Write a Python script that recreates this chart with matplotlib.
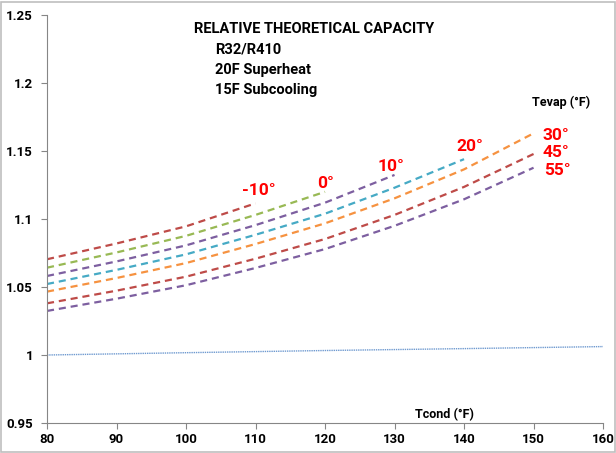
import matplotlib.pyplot as plt
from matplotlib.patches import Rectangle

plt.rcParams['font.family'] = ['Roboto', 'DejaVu Sans']

# condensing temperature (F)
tcond = [80, 90, 100, 110, 120, 130, 140, 150]

# relative capacity R32/R410 for each evaporating temperature
cap_m10 = [1.0704, 1.0820, 1.0946, 1.1115]
cap_0 = [1.0642, 1.0754, 1.0876, 1.1030, 1.1200]
cap_10 = [1.0581, 1.0688, 1.0806, 1.0955, 1.1120, 1.1324]
cap_20 = [1.0522, 1.0626, 1.0740, 1.0884, 1.1039, 1.1230, 1.1440]
cap_30 = [1.0466, 1.0566, 1.0676, 1.0816, 1.0968, 1.1152, 1.1365, 1.1630]
cap_45 = [1.0380, 1.0473, 1.0576, 1.0708, 1.0853, 1.1030, 1.1236, 1.1478]
cap_55 = [1.0324, 1.0414, 1.0513, 1.0640, 1.0779, 1.0950, 1.1145, 1.1377]

# reference line (ratio = 1)
base_t = [80, 100, 120, 140, 160]
base_cap = [1.0000, 1.0017, 1.0033, 1.0047, 1.0062]

series = [cap_m10, cap_0, cap_10, cap_20, cap_30, cap_45, cap_55]
labels = ['-10°', '0°', '10°', '20°', '30°', '45°', '55°']
colors = ['#BE4B48', '#98B954', '#7D5FA0', '#46AAC5', '#F69240', '#BE4B48', '#7D5FA0']
# label offsets from the curve end, in pixels
offsets = [(3, 13), (1, 8), (-4, 8), (6, 13), (22, -2), (22, 1), (24, -3)]

fig = plt.figure(figsize=(6.16, 4.53), dpi=100)
ax = fig.add_axes([0.0763, 0.0662, 0.9027, 0.9007])

ax.plot(base_t, base_cap, color='#6F9AD0', lw=1.0, ls=(0, (1, 0.6)))

for vals, lab, col, off in zip(series, labels, colors, offsets):
    x = tcond[:len(vals)]
    ax.plot(x, vals, color=col, lw=1.6, dashes=(3.2, 2.2))
    ax.annotate(lab, (x[-1], vals[-1]), xytext=off, textcoords='offset pixels',
                ha='center', va='center', color='#FF0000',
                fontsize=12.5, fontweight='bold')

ax.text(0.264, 0.965, 'RELATIVE THEORETICAL CAPACITY', transform=ax.transAxes,
        fontsize=10.5, fontweight='bold', va='center')
for i, line in enumerate(['R32/R410', '20F Superheat', '15F Subcooling']):
    ax.text(0.303, 0.915 - i * 0.049, line, transform=ax.transAxes,
            fontsize=10.5, fontweight='bold', va='center')
ax.text(0.872, 0.787, 'Tevap (°F)', transform=ax.transAxes,
        fontsize=9, fontweight='bold', va='center')
ax.text(0.661, 0.022, 'Tcond (°F)', transform=ax.transAxes,
        fontsize=9, fontweight='bold', va='center')

ax.set_xlim(80, 160)
ax.set_ylim(0.95, 1.25)
ax.set_xticks(range(80, 161, 10))
ax.set_yticks([0.95, 1.0, 1.05, 1.1, 1.15, 1.2, 1.25])
ax.set_yticklabels(['0.95', '1', '1.05', '1.1', '1.15', '1.2', '1.25'])
for spine in ['top', 'right']:
    ax.spines[spine].set_visible(False)
for spine in ['left', 'bottom']:
    ax.spines[spine].set_color('#868686')
ax.tick_params(axis='both', colors='#868686', labelcolor='black', length=4, width=0.8,
               labelsize=9.5)
ax.tick_params(axis='y', pad=6)
for lbl in ax.get_xticklabels() + ax.get_yticklabels():
    lbl.set_fontweight('bold')

fig.patches.append(Rectangle((0.002, 0.002), 0.996, 0.994, transform=fig.transFigure,
                             fill=False, edgecolor='#BFBFBF', lw=1.2))

fig.savefig('out.png', dpi=100)
